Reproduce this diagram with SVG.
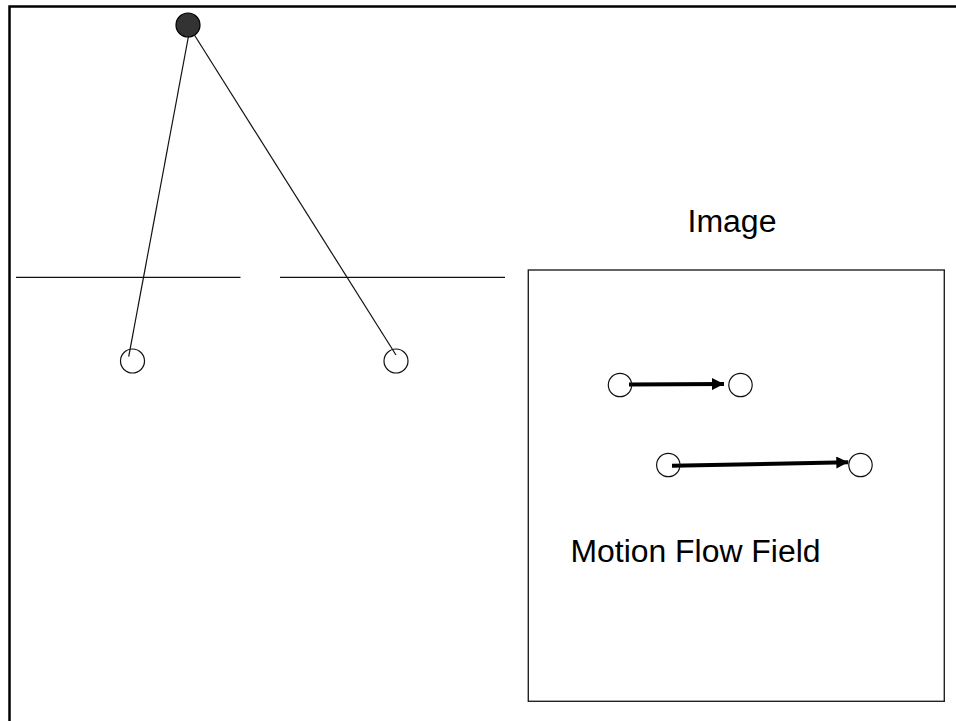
<svg xmlns="http://www.w3.org/2000/svg" width="956" height="721" viewBox="0 0 956 721">
  <style>
    .thin { stroke: #111; stroke-width: 1.2; fill: none; }
    .pt { fill: #fff; stroke: #111; stroke-width: 1.2; }
    .flow { stroke: #000; stroke-width: 4; fill: none; marker-end: url(#head); }
    .lbl { font-family: "Liberation Sans", Arial, sans-serif; font-size: 31px; fill: #000; }
  </style>
  <defs>
    <marker id="head" viewBox="0 0 10 10" refX="10" refY="5" markerUnits="userSpaceOnUse" markerWidth="14" markerHeight="12" orient="auto">
      <path d="M0,0 L10,5 L0,10 Z" fill="#000"/>
    </marker>
  </defs>
  <rect width="956" height="721" fill="#fff"/>

  <!-- outer frame (top and left edges) -->
  <path d="M9.5,721 V6.5 H956" fill="none" stroke="#000" stroke-width="2.5"/>

  <!-- image planes -->
  <g id="planes">
    <line class="thin" x1="16" y1="277.3" x2="240.5" y2="277.3"/>
    <line class="thin" x1="280" y1="277.3" x2="505" y2="277.3"/>
  </g>

  <!-- flow panel -->
  <g id="panel">
    <rect x="528.3" y="270" width="416" height="431.3" fill="none" stroke="#222" stroke-width="1.4"/>
    <text class="lbl" x="687.5" y="231.7" textLength="89" lengthAdjust="spacingAndGlyphs">Image</text>
    <text class="lbl" x="570.5" y="561.7" textLength="250" lengthAdjust="spacingAndGlyphs">Motion Flow Field</text>
  </g>

  <!-- connectors -->
  <g id="connectors">
    <line class="thin" x1="190" y1="28" x2="128.7" y2="356.7"/>
    <line class="thin" x1="190" y1="28" x2="396" y2="355"/>
    <line class="flow" x1="629" y1="384.5" x2="724" y2="384"/>
    <line class="flow" x1="672" y1="465.7" x2="848.3" y2="462.3"/>
  </g>

  <!-- nodes -->
  <g id="camera">
    <circle cx="188" cy="25" r="12" fill="#333" stroke="#000" stroke-width="1.2"/>
  </g>
  <g id="proj-left">
    <circle class="pt" cx="132.5" cy="361" r="12" fill-opacity="0"/>
  </g>
  <g id="proj-right">
    <circle class="pt" cx="396" cy="361" r="12" fill-opacity="0"/>
  </g>
  <g id="flow1-start">
    <circle class="pt" cx="620" cy="385" r="11.7" fill-opacity="0"/>
  </g>
  <g id="flow1-end">
    <circle class="pt" cx="740.5" cy="385" r="11.7"/>
  </g>
  <g id="flow2-start">
    <circle class="pt" cx="668.3" cy="465" r="11.7" fill-opacity="0"/>
  </g>
  <g id="flow2-end">
    <circle class="pt" cx="860.5" cy="465" r="11.7"/>
  </g>
</svg>
